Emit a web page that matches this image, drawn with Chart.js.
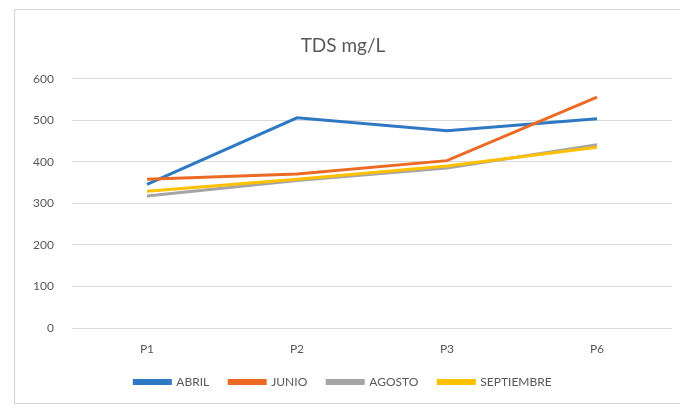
<!DOCTYPE html>
<html>
<head>
<meta charset="utf-8">
<script src="https://cdn.jsdelivr.net/npm/chart.js@4/dist/chart.umd.min.js"></script>
<style>
  html, body { margin: 0; padding: 0; background: #ffffff; }
  #wrap { position: relative; width: 680px; height: 412px; overflow: hidden; }
  #frame {
    position: absolute; left: 14px; top: 9px; width: 700px; height: 395px;
    border: 1px solid #d4d4d4; box-sizing: border-box; pointer-events: none;
  }
  canvas { position: absolute; left: 0; top: 0; }
</style>
</head>
<body>
<div id="wrap">
  <div id="frame"></div>
  <canvas id="chart" width="680" height="412"></canvas>
</div>
<script>
// Sampling points and monthly TDS readings (mg/L)
const puntos = ['P1', 'P2', 'P3', 'P6'];
const abril = [346, 506, 475, 504];
const junio = [358, 371, 403, 556];
const agosto = [318, 355, 385, 441];
const septiembre = [329, 358, 390, 435];
const yTicks = [0, 100, 200, 300, 400, 500, 600];

const series = [
  { label: 'ABRIL', data: abril, color: '#2f78c4' },
  { label: 'JUNIO', data: junio, color: '#ec6a24' },
  { label: 'AGOSTO', data: agosto, color: '#a5a5a5' },
  { label: 'SEPTIEMBRE', data: septiembre, color: '#ffc000' }
];

const FONT = 'Lato, "Open Sans", "Liberation Sans", sans-serif';
const TEXT = '#595959';

new Chart(document.getElementById('chart'), {
  type: 'line',
  data: {
    labels: puntos,
    datasets: series.map((s, i) => ({
      label: s.label,
      data: s.data,
      borderColor: s.color,
      backgroundColor: s.color,
      borderWidth: 3,
      pointRadius: 0,
      tension: 0,
      fill: false,
      // later series are painted over earlier ones
      order: series.length - i
    }))
  },
  options: {
    responsive: false,
    animation: false,
    events: [],
    layout: { padding: { left: 14, right: 8, top: 9, bottom: 14 } },
    plugins: {
      title: {
        display: true,
        text: 'TDS mg/L',
        color: TEXT,
        font: { family: FONT, size: 19, weight: 'normal' },
        padding: { top: 25, bottom: 22 }
      },
      legend: {
        position: 'bottom',
        labels: {
          color: TEXT,
          font: { family: FONT, size: 12 },
          boxWidth: 36,
          boxHeight: 3,
          padding: 20,
          sort: (a, b) => a.datasetIndex - b.datasetIndex
        }
      },
      tooltip: { enabled: false }
    },
    scales: {
      x: {
        offset: true,
        grid: { display: false, drawTicks: false },
        border: { display: false },
        ticks: { color: TEXT, font: { family: FONT, size: 12 }, padding: 14 },
        afterFit: (scale) => { scale.height = 28; }
      },
      y: {
        min: 0,
        max: 600,
        afterBuildTicks: (scale) => { scale.ticks = yTicks.map(v => ({ value: v })); },
        grid: { color: '#d9d9d9', lineWidth: 1, drawTicks: false },
        border: { display: false },
        ticks: { color: TEXT, font: { family: FONT, size: 12 }, padding: 18 },
        afterFit: (scale) => { scale.width = 58; }
      }
    }
  }
});
</script>
</body>
</html>
